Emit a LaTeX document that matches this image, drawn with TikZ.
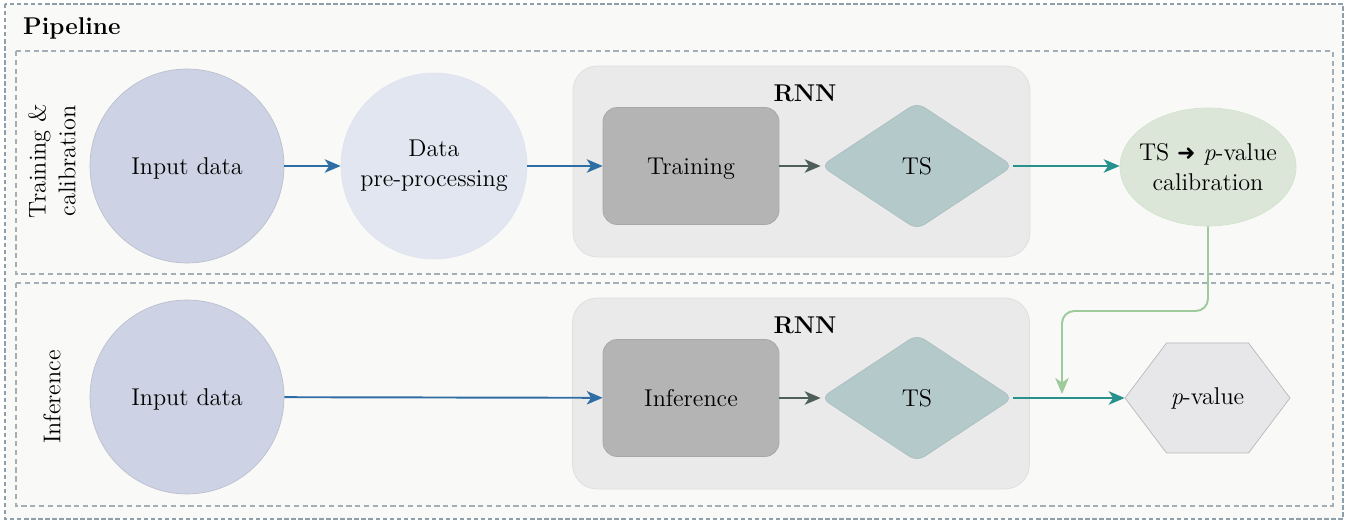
\documentclass[tikz,border=0pt]{standalone}
\usepackage{fontspec}
\newfontfamily\arrowfont{DejaVu Sans}
\usetikzlibrary{positioning,arrows.meta,shapes.geometric,calc}
\definecolor{pagebg}{HTML}{F9F9F7}
\definecolor{framec}{HTML}{8E9FAC}
\definecolor{inframe}{HTML}{A3AEB6}
\definecolor{indata}{HTML}{CDD3E4}
\definecolor{prepc}{HTML}{E2E6F0}
\definecolor{rnnbg}{HTML}{EAEAEA}
\definecolor{modelc}{HTML}{B3B4B3}
\definecolor{tsc}{HTML}{B3C9CA}
\definecolor{calibc}{HTML}{DCE6D8}
\definecolor{pvalc}{HTML}{E7E6E8}
\definecolor{flowblue}{HTML}{2F6EA5}
\definecolor{flowgray}{HTML}{4E5F5A}
\definecolor{flowteal}{HTML}{28908D}
\definecolor{flowgreen}{HTML}{9DCB9B}

\begin{document}
\begin{tikzpicture}[x=0.02cm, y=-0.02cm, font=\rmfamily\fontsize{13.8}{17}\selectfont,
  outerframe/.style={draw=framec, line width=0.6pt, dash pattern=on 2.5pt off 1.5pt, fill=pagebg},
  stageframe/.style={draw=inframe, line width=0.6pt, dash pattern=on 3pt off 2pt, fill=pagebg},
  datanode/.style={circle, draw=indata!85!black!60!indata, fill=indata, minimum size=3.88cm, inner sep=0pt, text depth=0pt},
  prepnode/.style={circle, draw=prepc!90!indata, fill=prepc, minimum size=3.72cm, inner sep=0pt, align=center},
  rnnbox/.style={rectangle, rounded corners=14pt, fill=rnnbg, draw=rnnbg!95!black, minimum width=9.14cm, minimum height=3.82cm},
  modelnode/.style={rectangle, rounded corners=8pt, fill=modelc, draw=modelc!93!black, minimum width=3.52cm, minimum height=2.34cm, text depth=0pt},
  tsnode/.style={diamond, rounded corners=5pt, fill=tsc, draw=tsc!95!black, minimum width=3.84cm, minimum height=2.54cm, inner sep=0pt},
  calibnode/.style={ellipse, fill=calibc, draw=calibc!85!flowgreen, minimum width=3.52cm, minimum height=2.36cm, inner xsep=-5pt, inner ysep=0pt, align=center},
  flow/.style={line width=1.1pt, -{Stealth[length=3.2mm, width=2.7mm, inset=0.9mm]}},
  rnnlabel/.style={font=\rmfamily\bfseries\fontsize{13.8}{17}\selectfont},
  side/.style={rotate=90, align=center}]
\useasboundingbox (0,0) rectangle (1356,523);
% frames
\draw[outerframe] (5,4) rectangle (1343,519);
\node[rnnlabel, anchor=west] (title) at (17,28) {Pipeline};
\draw[stageframe] (16,51) rectangle (1333,274);
\draw[stageframe] (16,283) rectangle (1333,506);
\node[side] (lblA) at (52,161) {Training \&\\calibration};
\node[side] (lblB) at (52,397) {Inference};

% training & calibration
\node[datanode] (dataA) at (187,166) {Input data};
\node[prepnode] (prep) at (434,166) {Data\\pre-processing};
\node[rnnbox] (rnnA) at (801.5,161.5) {};
\node[rnnlabel] (rnnlblA) at (805,93) {RNN};
\node[modelnode] (train) at (691,166) {Training};
\node[tsnode] (tsA) at (917,166) {TS};
\node[calibnode] (calib) at (1208,167) {TS {\arrowfont\bfseries\fontsize{12.5}{17}\selectfont ➜} \textit{p}-value\\calibration};

% inference
\node[datanode] (dataB) at (187,397) {Input data};
\node[rnnbox] (rnnB) at (801,393.5) {};
\node[rnnlabel] (rnnlblB) at (805,325) {RNN};
\node[modelnode] (infer) at (691,398) {Inference};
\node[tsnode] (tsB) at (917,398) {TS};
\coordinate (pvalmid) at (1207.5,398);
\draw[fill=pvalc, draw=pvalc!80!black] ($(pvalmid)+(-82.5,0)$) -- ($(pvalmid)+(-41,-55)$) -- ($(pvalmid)+(41,-55)$)
  -- ($(pvalmid)+(82.5,0)$) -- ($(pvalmid)+(41,55)$) -- ($(pvalmid)+(-41,55)$) -- cycle;
\node[minimum width=3.3cm, minimum height=2.2cm, inner sep=0pt] (pval) at (pvalmid) {\textit{p}-value};

% connectors
\draw[flow, flowblue] (dataA) -- (prep);
\draw[flow, flowblue] (prep.east) -- (train.west);
\draw[flow, flowgray] (train) -- (tsA);
\draw[flow, flowteal] (tsA.east) -- (tsA.east -| calib.west);
\draw[flow, flowblue] (dataB) -- (infer);
\draw[flow, flowgray] (infer) -- (tsB);
\draw[flow, flowteal] (tsB.east) -- (pval.west);
\coordinate (bend) at (1062,311);
\coordinate (join) at (1062,394);
\draw[flow, flowgreen, rounded corners=7pt] (calib.south) |- (bend) -- (join);
\end{tikzpicture}
\end{document}
